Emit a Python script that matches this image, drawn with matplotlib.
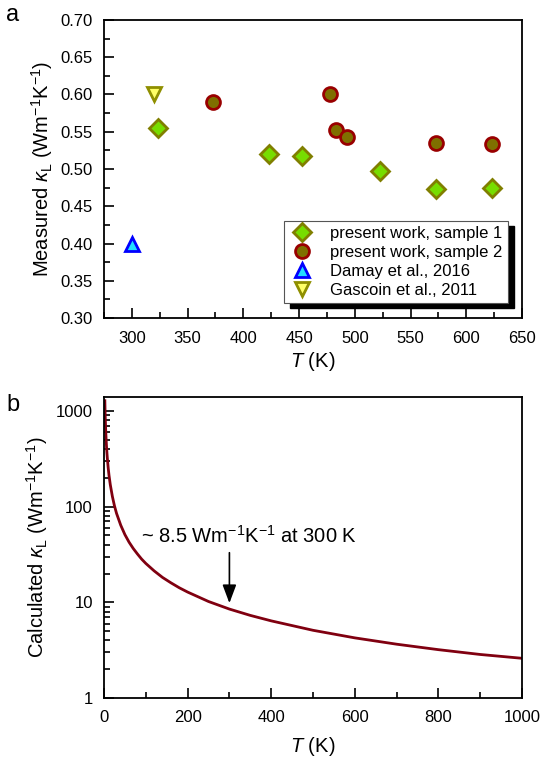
import numpy as np
import matplotlib
matplotlib.use("Agg")
import matplotlib.pyplot as plt
import matplotlib.ticker as mticker
from matplotlib.patches import Rectangle

plt.rcParams["font.family"] = ["Liberation Sans", "DejaVu Sans"]
plt.rcParams["mathtext.fontset"] = "custom"
plt.rcParams["mathtext.rm"] = "Liberation Sans"
plt.rcParams["mathtext.it"] = "Liberation Sans:italic"
plt.rcParams["mathtext.bf"] = "Liberation Sans:bold"

# ── panel a: measured lattice thermal conductivity ──────────────────────────
t_s1 = [323, 423, 453, 523, 573, 623]
k_s1 = [0.555, 0.520, 0.517, 0.497, 0.473, 0.475]

t_s2 = [373, 478, 483, 493, 573, 623]
k_s2 = [0.590, 0.600, 0.553, 0.543, 0.535, 0.533]

t_damay = [300]
k_damay = [0.400]

t_gascoin = [320]
k_gascoin = [0.600]

# ── panel b: calculated lattice thermal conductivity ────────────────────────
t_calc = [2, 2.5, 3, 4, 5, 6, 7, 8, 10, 12, 15, 20, 25, 30, 40, 50, 60, 70,
          80, 90, 100, 120, 140, 160, 180, 200, 250, 300, 350, 400, 500, 600,
          700, 800, 900, 1000]
k_calc = [1280, 1020, 850, 640, 510, 425, 365, 320, 255, 212, 170, 128, 102,
          85, 64, 51, 42.5, 36.5, 32, 28.3, 25.5, 21.3, 18.2, 16.0, 14.2, 12.8,
          10.2, 8.5, 7.3, 6.4, 5.1, 4.25, 3.65, 3.2, 2.85, 2.6]

fig = plt.figure(figsize=(5.4, 7.63), dpi=100)
ax1 = fig.add_axes([0.1926, 0.5832, 0.7741, 0.3906])
ax2 = fig.add_axes([0.1926, 0.0852, 0.7741, 0.3945])


def _style(ax):
    ax.tick_params(which="both", direction="in", top=False, right=False,
                   labelsize=12, width=1.2)
    ax.tick_params(axis="y", which="both", pad=8)
    ax.tick_params(axis="x", which="both", pad=9)
    ax.tick_params(which="major", length=7)
    ax.tick_params(which="minor", length=4)
    for sp in ax.spines.values():
        sp.set_linewidth(1.3)


# ── Figure a ────────────────────────────────────────────────────────────────
ax1.plot(t_s1, k_s1, ls="none", marker="D", ms=9, mfc="#77dd00", mec="#807f00",
         mew=2, label="present work, sample 1")
ax1.plot(t_s2, k_s2, ls="none", marker="o", ms=10, mfc="#7f6f00", mec="#990000",
         mew=2, label="present work, sample 2")
ax1.plot(t_damay, k_damay, ls="none", marker="^", ms=10, mfc="#22ddff",
         mec="#0000ff", mew=2, label="Damay et al., 2016")
ax1.plot(t_gascoin, k_gascoin, ls="none", marker="v", ms=10, mfc="#ffff66",
         mec="#8f8f00", mew=2, label="Gascoin et al., 2011")

ax1.set_xlim(275, 650)
ax1.set_ylim(0.30, 0.70)
ax1.xaxis.set_major_locator(mticker.MultipleLocator(50))
ax1.xaxis.set_minor_locator(mticker.MultipleLocator(25))
ax1.yaxis.set_major_locator(mticker.MultipleLocator(0.05))
ax1.yaxis.set_minor_locator(mticker.MultipleLocator(0.025))
ax1.yaxis.set_major_formatter(mticker.FormatStrFormatter("%.2f"))
_style(ax1)
ax1.set_xlabel("$T$ (K)", fontsize=14.5, labelpad=3)
ax1.set_ylabel(r"Measured $\kappa_{\mathrm{L}}$ (Wm$^{-1}$K$^{-1}$)",
               fontsize=14.5, labelpad=4)

leg = ax1.legend(loc="lower right", bbox_to_anchor=(0.966, 0.05),
                 borderaxespad=0, fontsize=12, fancybox=False, framealpha=1,
                 edgecolor="#555555", handletextpad=0.9, labelspacing=0.25,
                 borderpad=0.3, handlelength=1.6)
leg.get_frame().set_linewidth(0.8)
leg.set_zorder(6)

# ── Figure b ────────────────────────────────────────────────────────────────
ax2.plot(t_calc, k_calc, color="#800010", lw=2)
ax2.set_yscale("log")
ax2.set_xlim(0, 1000)
ax2.set_ylim(1, 1400)
ax2.xaxis.set_major_locator(mticker.MultipleLocator(200))
ax2.xaxis.set_minor_locator(mticker.MultipleLocator(100))
ax2.yaxis.set_major_locator(mticker.LogLocator(base=10, numticks=10))
ax2.yaxis.set_minor_locator(mticker.LogLocator(base=10, subs=np.arange(2, 10), numticks=10))
ax2.yaxis.set_major_formatter(mticker.FuncFormatter(lambda v, p: f"{v:g}"))
ax2.yaxis.set_minor_formatter(mticker.NullFormatter())
_style(ax2)
ax2.set_xlabel("$T$ (K)", fontsize=14.5, labelpad=7)
ax2.set_ylabel(r"Calculated $\kappa_{\mathrm{L}}$ (Wm$^{-1}$K$^{-1}$)",
               fontsize=14.5, labelpad=4)
ax2.annotate("", xy=(300, 9.8), xytext=(300, 33),
             arrowprops=dict(arrowstyle="-|>,head_length=0.8,head_width=0.3",
                             color="black", lw=1.2, shrinkA=0, shrinkB=0,
                             mutation_scale=14))
ax2.text(346, 50, "~ 8.5 Wm$^{-1}$K$^{-1}$ at 300 K", ha="center", va="center",
         fontsize=14.5)

fig.text(0.024, 0.980, "a", fontsize=17, ha="center", va="center")
fig.text(0.024, 0.469, "b", fontsize=17, ha="center", va="center")

# black drop shadow behind legend (Origin style)
fig.canvas.draw()
bb = leg.get_window_extent().transformed(fig.transFigure.inverted())
shadow = Rectangle((bb.x0 + 6 / 540, bb.y0 - 5 / 763), bb.width, bb.height,
                   transform=fig.transFigure, color="black", zorder=5.5,
                   clip_on=False)
ax1.add_patch(shadow)

fig.savefig("out.png", dpi=100)
